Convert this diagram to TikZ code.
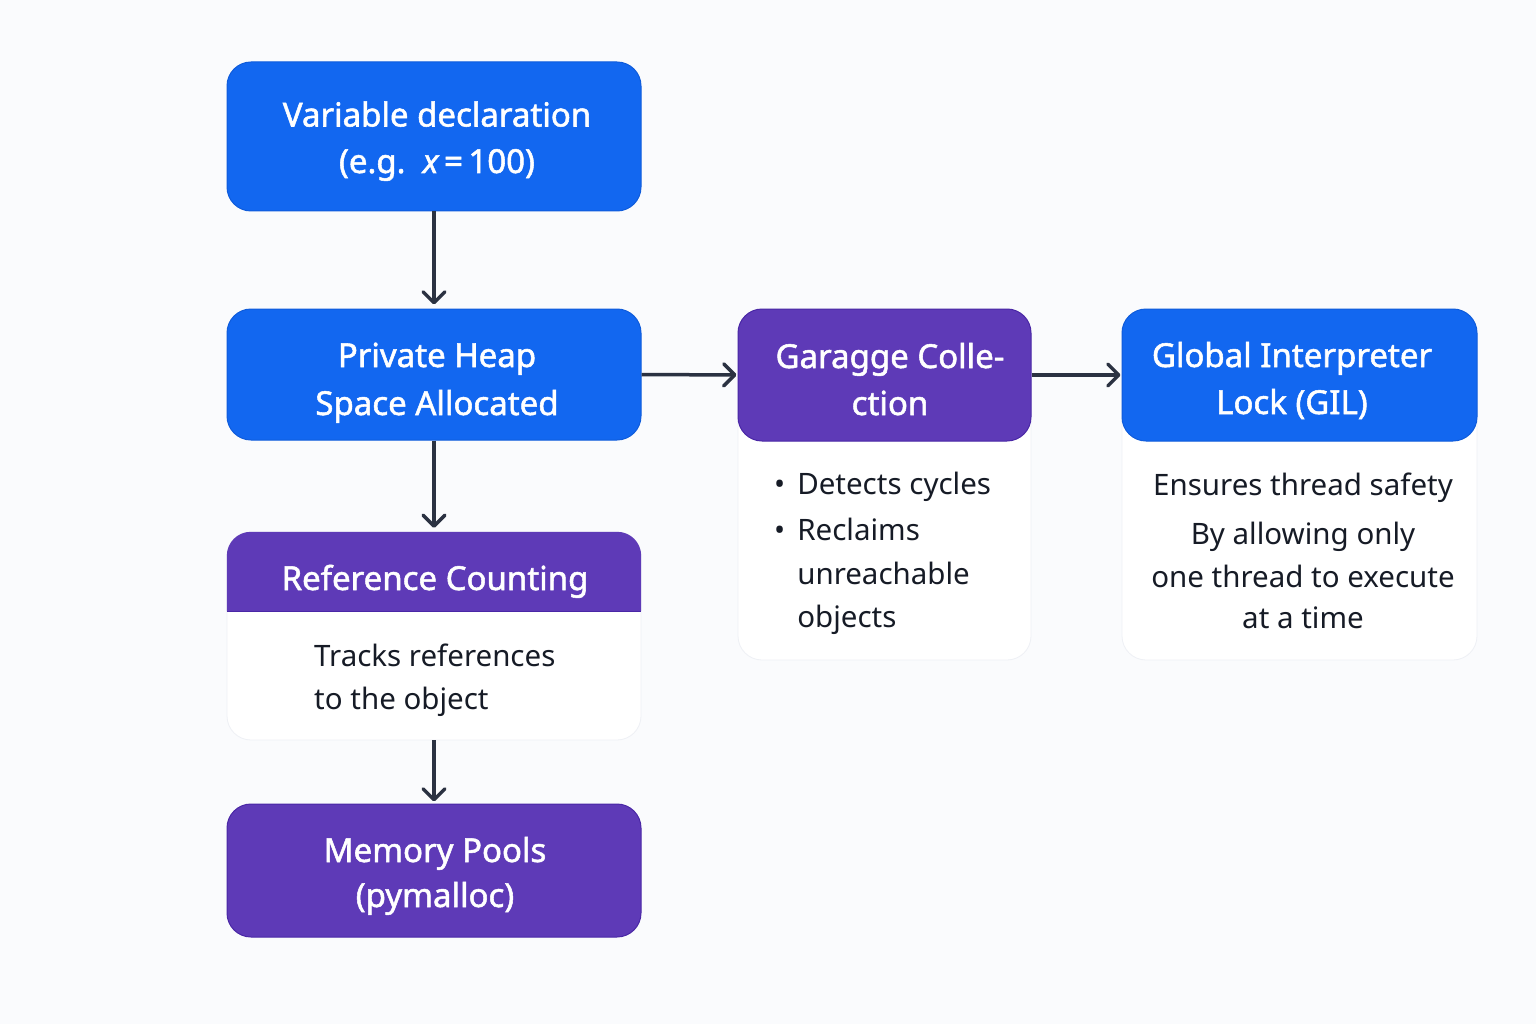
\documentclass[tikz,border=0pt]{standalone}
\usepackage{fontspec}
\setmainfont{Noto Sans}
\newfontfamily\headfont{Noto Sans}[FakeBold=1.6]
\usetikzlibrary{arrows.meta,positioning}
\definecolor{bg}{HTML}{FAFBFD}
\definecolor{bblue}{HTML}{1267F0}
\definecolor{bblueedge}{HTML}{0F5CDB}
\definecolor{ppurple}{HTML}{5E3AB7}
\definecolor{ppurpleedge}{HTML}{4A27A6}
\definecolor{arrowc}{HTML}{2B3242}
\definecolor{bodytext}{HTML}{161B26}
\definecolor{cardedge}{HTML}{EEF0F5}
\tikzset{
  headbox/.style={rectangle, rounded corners=24pt, inner sep=0pt, line width=1pt},
  bluebox/.style={headbox, fill=bblue, draw=bblueedge},
  purplebox/.style={headbox, fill=ppurple, draw=ppurpleedge},
  headtxt/.style={text=white, align=center, anchor=base, inner sep=0pt,
    font=\headfont\fontsize{33}{47}\selectfont},
  card/.style={rectangle, rounded corners=24pt, fill=white, draw=cardedge, line width=0.8pt, inner sep=0pt},
  bodytxt/.style={text=bodytext, font=\fontsize{29.5}{43}\selectfont, inner sep=0pt, anchor=base west},
  flow/.style={draw=arrowc, line width=3.5pt, -{Straight Barb[length=11pt,width=22pt,line cap=round,line join=round]}},
}
\begin{document}
\begin{tikzpicture}[x=1pt,y=-1pt]
\fill[bg] (0,0) rectangle (1536,1024);
\useasboundingbox (0,0) rectangle (1536,1024);

% cards
\node[card, minimum width=414pt, minimum height=208pt] (rccard) at (434,636) {};
\node[card, minimum width=293pt, minimum height=351pt] (gccard) at (884.5,484.5) {};
\node[card, minimum width=355pt, minimum height=351pt] (gilcard) at (1299.5,484.5) {};

% main boxes (label anchor = baseline of last line)
\node[bluebox, minimum width=414pt, minimum height=149pt] (vd) at (434,136.5) {};
\node[headtxt] (vdl) at (437,173) {Variable declaration\\[-0.5pt](e.g.\ \ {\itshape x}\,=\,100)};

\node[bluebox, minimum width=414pt, minimum height=131pt] (ph) at (434,374.5) {};
\node[headtxt] (phl) at (437,415) {Private Heap\\[1pt]Space Allocated};

% reference counting header (top corners rounded only)
\node[rectangle, minimum width=414pt, minimum height=79pt, inner sep=0pt] (rc) at (434,571.5) {};
\fill[ppurple] (rc.south west) [rounded corners=24pt] -- (rc.north west) -- (rc.north east) [sharp corners] -- (rc.south east) -- cycle;
\draw[ppurpleedge, line width=0.8pt] (rc.south west) -- (rc.south east);
\node[headtxt] (rcl) at (435,590) {Reference Counting};

\node[purplebox, minimum width=414pt, minimum height=133pt] (mp) at (434,870.5) {};
\node[headtxt] (mpl) at (435,907) {Memory Pools\\[-2pt](pymalloc)};

\node[purplebox, minimum width=293pt, minimum height=132pt] (gc) at (884.5,375) {};
\node[headtxt] (gcl) at (890,415) {Garagge Colle-\\ction};

\node[bluebox, minimum width=355pt, minimum height=132pt] (gil) at (1299.5,375) {};
\node[headtxt] (gill) at (1292,414) {Global Interpreter\\Lock (GIL)};

% body texts
\node[bodytxt, align=left] (rctext) at (314,709)
  {Tracks references\\to the object};
\node[bodytxt, align=left] (gctext) at (774,627)
  {\textbullet\hspace{12pt}Detects cycles\\[3pt]
   \textbullet\hspace{12pt}Reclaims\\[1pt]
   \hphantom{\textbullet\hspace{12pt}}unreachable\\
   \hphantom{\textbullet\hspace{12pt}}objects};
\node[bodytxt, align=center, anchor=base] (giltext) at (1303,628)
  {Ensures thread safety\\[6pt]By allowing only\\one thread to execute\\[-2pt]at a time};

% connectors
\draw[flow, shorten >=4pt] (vd.south) -- (ph.north);
\draw[flow, shorten >=4pt] (ph.south) -- (rc.north);
\draw[flow, shorten >=2pt] (rccard.south) -- (mp.north);
\draw[flow, shorten >=1pt] (ph.east) -- (gc.west);
\draw[flow, shorten >=1pt] (gc.east) -- (gil.west);
\end{tikzpicture}
\end{document}
